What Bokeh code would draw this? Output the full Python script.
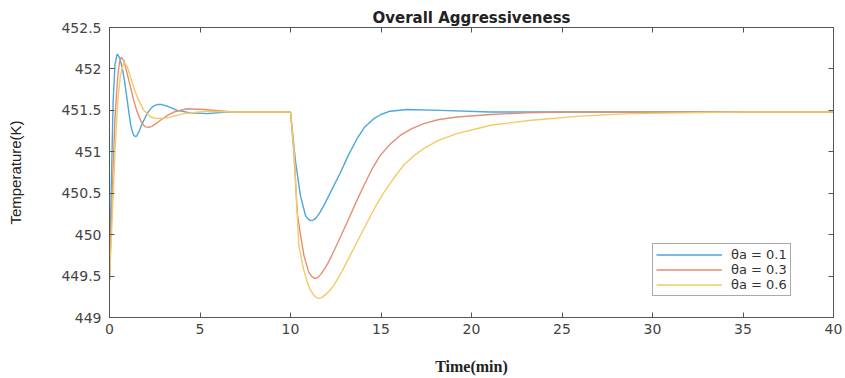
from bokeh.plotting import figure
from bokeh.models import LinearAxis, FixedTicker, CustomJSTickFormatter, Legend, LegendItem, Range1d
from bokeh.embed import file_html
from bokeh.resources import INLINE

# ---- data ----
title_text = "Overall Aggressiveness"
x_label = "Time(min)"
y_label = "Temperature(K)"
series_labels = ["\u03b8a = 0.1", "\u03b8a = 0.3", "\u03b8a = 0.6"]
x_ticks = [0, 5, 10, 15, 20, 25, 30, 35, 40]
y_ticks = [449, 449.5, 450, 450.5, 451, 451.5, 452, 452.5]

t_01 = [0, 0.1, 0.2, 0.3, 0.42, 0.55, 0.7, 0.84, 0.98, 1.08, 1.16, 1.25, 1.34, 1.42, 1.5, 1.62,
        1.75, 1.9, 2.08, 2.27, 2.45, 2.63, 2.9, 3.19, 3.74, 4.48, 5.4, 6.5, 8.0, 10.0, 10.28,
        10.55, 10.83, 10.97, 11.1, 11.25, 11.4, 11.6, 11.84, 12.3, 12.76, 13.2, 13.68, 14.1,
        14.6, 15.0, 15.5, 16.45, 18.3, 21.0, 25.0, 40.0]
T_01 = [449.45, 450.6, 451.6, 452.05, 452.18, 452.14, 452.02, 451.84, 451.62, 451.46, 451.34,
        451.25, 451.2, 451.185, 451.19, 451.24, 451.31, 451.38, 451.46, 451.52, 451.555, 451.57,
        451.57, 451.55, 451.5, 451.47, 451.46, 451.48, 451.48, 451.48, 450.88, 450.47, 450.23,
        450.19, 450.17, 450.175, 450.2, 450.26, 450.35, 450.55, 450.75, 450.96, 451.16, 451.3,
        451.4, 451.45, 451.49, 451.51, 451.5, 451.48, 451.48, 451.48]

t_03 = [0, 0.15, 0.3, 0.45, 0.55, 0.65, 0.8, 0.98, 1.15, 1.34, 1.5, 1.71, 1.85, 1.99, 2.17,
        2.36, 2.6, 2.82, 3.2, 3.55, 4.29, 5.2, 6.85, 8.0, 10.0, 10.2, 10.37, 10.55, 10.74,
        11.0, 11.2, 11.38, 11.55, 11.7, 11.95, 12.2, 12.65, 13.13, 13.6, 14.05, 14.5, 14.97,
        15.5, 16.08, 16.7, 17.37, 18.2, 19.2, 21.05, 23.0, 25.0, 40.0]
T_03 = [449.45, 450.5, 451.4, 451.9, 452.08, 452.14, 452.1, 451.94, 451.79, 451.62, 451.5,
        451.38, 451.33, 451.3, 451.295, 451.31, 451.345, 451.38, 451.44, 451.48, 451.52,
        451.51, 451.48, 451.48, 451.48, 450.95, 450.27, 450.0, 449.75, 449.55, 449.49, 449.47,
        449.49, 449.53, 449.61, 449.71, 449.92, 450.15, 450.38, 450.59, 450.79, 450.96,
        451.09, 451.2, 451.28, 451.34, 451.39, 451.42, 451.45, 451.47, 451.48, 451.48]

t_06 = [0, 0.15, 0.3, 0.45, 0.6, 0.79, 0.98, 1.16, 1.34, 1.53, 1.9, 2.27, 2.63, 3.19, 4.1,
        5.4, 6.85, 8.0, 10.0, 10.2, 10.46, 10.7, 10.92, 11.1, 11.29, 11.43, 11.57, 11.72,
        11.9, 12.15, 12.4, 12.85, 13.3, 13.77, 14.24, 14.7, 15.16, 15.7, 16.26, 16.8, 17.37,
        18.2, 19.2, 20.5, 21.05, 23.3, 26.0, 28.8, 31.5, 35.0, 40.0]
T_06 = [449.45, 450.2, 451.0, 451.6, 451.92, 452.08, 452.03, 451.9, 451.78, 451.66, 451.5,
        451.42, 451.4, 451.41, 451.46, 451.49, 451.48, 451.48, 451.48, 451.0, 449.87, 449.6,
        449.43, 449.33, 449.27, 449.24, 449.23, 449.24, 449.27, 449.32, 449.39, 449.56,
        449.75, 449.95, 450.15, 450.34, 450.51, 450.68, 450.84, 450.95, 451.04, 451.14,
        451.22, 451.29, 451.32, 451.38, 451.43, 451.46, 451.47, 451.48, 451.48]

colors = ["#4da6dc", "#e38f72", "#f2ca66"]

# ---- figure ----
p = figure(width=845, height=378, output_backend="svg", toolbar_location=None,
           x_range=Range1d(0, 40), y_range=Range1d(449, 452.5),
           min_border_left=109, min_border_right=12, min_border_top=27, min_border_bottom=61,
           title=title_text)
p.background_fill_color = "white"
p.border_fill_color = "white"
p.outline_line_color = "#555555"
p.outline_line_width = 1
p.grid.visible = False

p.title.align = "center"
p.title.text_font = "DejaVu Sans"
p.title.text_font_size = "15px"
p.title.text_font_style = "bold"
p.title.text_color = "#222222"
p.title.standoff = 2

fmt = CustomJSTickFormatter(code="return tick.toString();")
blank = CustomJSTickFormatter(code="return '';")

for ax in [p.xaxis[0], p.yaxis[0]]:
    ax.axis_line_color = "#555555"
    ax.major_tick_line_color = "#555555"
    ax.major_tick_in = 5
    ax.major_tick_out = 0
    ax.minor_tick_line_color = None
    ax.major_label_text_font = "DejaVu Sans"
    ax.major_label_text_font_size = "14px"
    ax.major_label_text_color = "#444444"
    ax.formatter = fmt

p.xaxis[0].ticker = FixedTicker(ticks=x_ticks)
p.yaxis[0].ticker = FixedTicker(ticks=y_ticks)
p.xaxis[0].major_label_standoff = 6
p.yaxis[0].major_label_standoff = 8

p.xaxis[0].axis_label = x_label
p.xaxis[0].axis_label_text_font = "Liberation Serif"
p.xaxis[0].axis_label_text_font_style = "bold"
p.xaxis[0].axis_label_text_font_size = "16px"
p.xaxis[0].axis_label_text_color = "#222222"
p.xaxis[0].axis_label_standoff = 21

p.yaxis[0].axis_label = y_label
p.yaxis[0].axis_label_text_font = "'Liberation Sans Narrow', 'Liberation Sans', sans-serif"
p.yaxis[0].axis_label_text_font_style = "normal"
p.yaxis[0].axis_label_text_font_size = "15px"
p.yaxis[0].axis_label_text_color = "#222222"
p.yaxis[0].axis_label_standoff = 34

right_ax = LinearAxis(ticker=FixedTicker(ticks=y_ticks), formatter=blank)
top_ax = LinearAxis(ticker=FixedTicker(ticks=x_ticks), formatter=blank)
for ax in [right_ax, top_ax]:
    ax.axis_line_color = "#555555"
    ax.major_tick_line_color = "#555555"
    ax.major_tick_in = 5
    ax.major_tick_out = 0
    ax.minor_tick_line_color = None
    ax.major_label_standoff = 0
    ax.major_label_text_font_size = "1px"
p.add_layout(right_ax, "right")
p.add_layout(top_ax, "above")

r1 = p.line(t_01, T_01, line_color=colors[0], line_width=1.4)
r2 = p.line(t_03, T_03, line_color=colors[1], line_width=1.4)
r3 = p.line(t_06, T_06, line_color=colors[2], line_width=1.4)

legend = Legend(items=[LegendItem(label=series_labels[0], renderers=[r1]),
                       LegendItem(label=series_labels[1], renderers=[r2]),
                       LegendItem(label=series_labels[2], renderers=[r3])],
                location=(543, 21))
legend.label_text_font = "DejaVu Sans"
legend.label_text_font_size = "13px"
legend.label_text_color = "#333333"
legend.glyph_width = 66
legend.glyph_height = 13
legend.label_height = 13
legend.label_standoff = 9
legend.spacing = 0
legend.padding = 3
legend.margin = 0
legend.border_line_color = "#555555"
legend.border_line_width = 1
legend.background_fill_color = "white"
p.add_layout(legend, "center")

open("out.html", "w").write(file_html(p, INLINE))
